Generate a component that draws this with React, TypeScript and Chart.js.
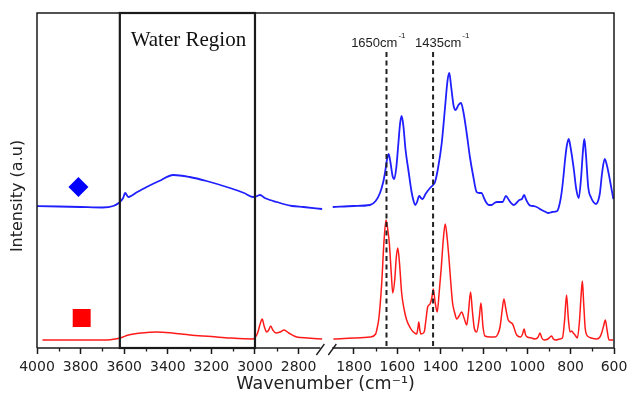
import React, { useEffect, useRef } from 'react';
import { Chart, registerables } from 'chart.js';

Chart.register(...registerables);

// ---- axis break definition (wavenumber, cm-1) ----
const X_START = 4000;
const BREAK_HIGH = 2700; // left panel ends here
const BREAK_LOW = 1900; // right panel starts here
const X_END = 600;
const X_MAX = 2647; // axis length in internal units (left panel 1 unit = 1 cm-1)
const RIGHT_SCALE = 0.994; // right panel slightly compressed

const T = (w: number) =>
  w >= (BREAK_HIGH + BREAK_LOW) / 2 ? X_START - w : X_MAX - (w - X_END) * RIGHT_SCALE;
const invT = (t: number) =>
  t <= X_START - BREAK_HIGH ? X_START - t : X_END + (X_MAX - t) / RIGHT_SCALE;

// ---- tick labels ----
const majorTicks = [4000, 3800, 3600, 3400, 3200, 3000, 2800, 1800, 1600, 1400, 1200, 1000, 800, 600];
const minorTicks = [3900, 3700, 3500, 3300, 3100, 2900, 1700, 1500, 1300, 1100, 900, 700];

// ---- blue series (upper spectrum) ----
const blueLeftWn = [4000, 3900, 3800, 3700, 3650, 3625, 3605, 3596, 3581, 3540, 3497, 3440, 3375, 3300, 3222, 3115, 3050, 3010, 2990, 2977, 2955, 2931, 2900, 2870, 2830, 2778, 2692];
const blueLeftVal = [142, 141.5, 141, 140.5, 142, 145, 150, 155, 151, 156, 161, 167, 173, 171, 167, 160, 155, 151, 152, 153, 150, 148, 146, 144, 142, 141, 139];

const blueRightWn = [1898, 1800, 1726, 1700, 1680, 1665, 1657, 1648, 1640, 1632, 1622, 1614, 1605, 1595, 1587, 1580, 1572, 1562, 1549, 1535, 1525, 1517, 1509, 1499, 1491, 1483, 1470, 1449, 1435, 1426, 1412, 1395, 1380, 1368, 1360, 1352, 1340, 1331, 1318, 1306, 1295, 1280, 1265, 1249, 1234, 1222, 1211, 1200, 1191, 1178, 1165, 1152, 1141, 1125, 1114, 1099, 1085, 1075, 1062, 1050, 1037, 1025, 1015, 1005, 991, 975, 957, 934, 915, 903, 885, 862, 850, 842, 834, 826, 818, 809, 800, 785, 775, 763, 752, 744, 737, 730, 719, 705, 695, 683, 672, 665, 655, 643, 632, 619, 603];
const blueRightVal = [141, 142, 143, 147, 155, 166, 175, 188, 194, 186, 172, 169, 180, 205, 225, 232, 222, 198, 178, 157, 147, 143, 146, 152, 150, 149, 154, 160, 163, 166, 180, 205, 240, 268, 275, 262, 242, 238, 243, 245, 236, 215, 191, 171, 156, 155, 155, 150, 146, 143, 143, 145, 146, 146, 146, 152, 148, 145, 143, 145, 148, 149, 153, 148, 143, 142, 141, 138, 136, 135, 136, 137, 145, 155, 170, 188, 202, 209, 200, 178, 160, 150, 170, 195, 209, 195, 161, 150, 146, 144, 148, 155, 175, 189, 182, 168, 149];

// ---- red series (lower spectrum) ----
const redLeftWn = [3975, 3800, 3680, 3640, 3619, 3580, 3520, 3451, 3380, 3298, 3200, 3115, 3008, 2998, 2988, 2975, 2967, 2958, 2946, 2937, 2928, 2918, 2904, 2885, 2866, 2845, 2809, 2760, 2692];
const redLeftVal = [8, 8, 8, 9, 10, 13, 15, 16, 15, 13, 11.5, 10, 9, 11, 15, 25, 29, 22, 16, 18, 22, 18, 15, 16, 18, 15, 11, 10, 9];

const redRightWn = [1895, 1800, 1726, 1700, 1695, 1685, 1672, 1662, 1652, 1645, 1637, 1628, 1621, 1612, 1605, 1598, 1590, 1580, 1568, 1557, 1540, 1526, 1511, 1505, 1501, 1496, 1491, 1476, 1468, 1460, 1449, 1441, 1434, 1425, 1416, 1407, 1397, 1388, 1379, 1370, 1360, 1352, 1345, 1335, 1326, 1315, 1303, 1292, 1280, 1272, 1262, 1254, 1245, 1234, 1222, 1214, 1205, 1196, 1170, 1149, 1136, 1126, 1116, 1108, 1100, 1088, 1068, 1055, 1049, 1031, 1022, 1015, 1008, 1000, 980, 965, 950, 942, 933, 923, 905, 895, 888, 880, 868, 850, 838, 828, 819, 811, 803, 795, 788, 780, 769, 760, 752, 746, 740, 733, 726, 705, 680, 665, 657, 648, 640, 632, 623, 603];
const redRightVal = [9, 10, 11, 14, 18, 30, 65, 105, 128, 120, 105, 75, 55, 68, 90, 100, 85, 55, 38, 28, 20, 16, 14, 20, 26, 18, 14, 16, 28, 41, 44, 50, 59, 45, 36, 55, 81, 108, 124, 110, 85, 62, 45, 35, 29, 32, 36, 30, 23, 35, 56, 38, 20, 16, 30, 45, 22, 12, 11, 11, 14, 21, 38, 49, 40, 28, 24, 16, 13, 11, 14, 19, 13, 11, 10, 9, 11, 15, 10, 8, 9, 11, 12, 9, 8, 9, 10, 28, 53, 30, 16, 17, 15, 13, 10, 25, 52, 67, 45, 20, 13, 10, 9, 11, 15, 22, 28, 18, 8, 8];

// ---- sample markers ----
const blueMarker = { wn: 3810, val: 161 };
const redMarker = { wn: 3795, val: 30 };

// ---- annotations ----
const waterRegion = { from: 3620, to: 3000, label: 'Water Region' };
const bandLines = [
  { wn: 1650, label: '1650cm', side: 'left' },
  { wn: 1435, label: '1435cm', side: 'right' },
];
const bandLineTop = 296;
const yTitle = 'Intensity (a.u)';

const Y_MAX = 335;

const BLUE = '#1f1fff';
const RED = '#ff1a1a';
const INK = '#1a1a1a';
const SANS = "'DejaVu Sans', 'Liberation Sans', Arial, sans-serif";
const ARIAL = "'Liberation Sans', Arial, sans-serif";

const toPts = (wn: number[], v: number[]) => wn.map((w, i) => ({ x: T(w), y: v[i] }));

const decorPlugin = {
  id: 'decor',
  afterDatasetsDraw(chart: any) {
    const { ctx, chartArea: a, scales } = chart;
    const x = scales.x;
    const y = scales.y;
    ctx.save();
    ctx.strokeStyle = INK;
    ctx.lineCap = 'butt';

    // frame
    const xL = x.getPixelForValue(T(BREAK_HIGH));
    const xR = x.getPixelForValue(T(BREAK_LOW));
    ctx.lineWidth = 1.5;
    ctx.beginPath();
    ctx.moveTo(a.left, a.bottom);
    ctx.lineTo(a.left, a.top);
    ctx.lineTo(a.right, a.top);
    ctx.lineTo(a.right, a.bottom);
    ctx.lineTo(xR, a.bottom);
    ctx.moveTo(xL, a.bottom);
    ctx.lineTo(a.left, a.bottom);
    ctx.stroke();

    // break slashes
    ctx.lineWidth = 1.3;
    ctx.beginPath();
    [xL, xR].forEach((cx) => {
      ctx.moveTo(cx - 4, a.bottom + 7);
      ctx.lineTo(cx + 4, a.bottom - 4);
    });
    ctx.stroke();

    // minor ticks
    ctx.lineWidth = 1.3;
    ctx.beginPath();
    minorTicks.forEach((w) => {
      const px = Math.round(x.getPixelForValue(T(w))) + 0.5;
      ctx.moveTo(px, a.bottom);
      ctx.lineTo(px, a.bottom + 3.5);
    });
    ctx.stroke();

    // water region box
    const wx1 = x.getPixelForValue(T(waterRegion.from));
    const wx2 = x.getPixelForValue(T(waterRegion.to));
    ctx.lineWidth = 2.2;
    ctx.strokeRect(wx1, a.top, wx2 - wx1, a.bottom - a.top);
    ctx.fillStyle = '#111';
    ctx.font = "21px 'Liberation Serif', 'Times New Roman', serif";
    ctx.textAlign = 'center';
    ctx.textBaseline = 'alphabetic';
    ctx.fillText(waterRegion.label, (wx1 + wx2) / 2 + 1, 46);

    // dashed band lines
    ctx.lineWidth = 2;
    ctx.setLineDash([5, 3.5]);
    ctx.strokeStyle = '#222';
    const yTop = y.getPixelForValue(bandLineTop);
    bandLines.forEach((b) => {
      const px = x.getPixelForValue(T(b.wn));
      ctx.beginPath();
      ctx.moveTo(px, yTop);
      ctx.lineTo(px, a.bottom);
      ctx.stroke();
    });
    ctx.setLineDash([]);

    // band labels
    bandLines.forEach((b) => {
      const px = x.getPixelForValue(T(b.wn));
      ctx.font = `13px ${ARIAL}`;
      const mainW = ctx.measureText(b.label).width;
      ctx.font = `8px ${ARIAL}`;
      const supW = ctx.measureText('-1').width;
      const total = mainW + supW + 1;
      const left = b.side === 'left' ? px + 19 - total : px - 18;
      ctx.textAlign = 'left';
      ctx.fillStyle = '#222';
      ctx.font = `13px ${ARIAL}`;
      ctx.fillText(b.label, left, 47);
      ctx.font = `8px ${ARIAL}`;
      ctx.fillText('-1', left + mainW + 1, 38);
    });

    // y axis title
    ctx.save();
    ctx.translate(18, 196);
    ctx.rotate(-Math.PI / 2);
    ctx.textAlign = 'center';
    ctx.textBaseline = 'middle';
    ctx.fillStyle = '#222';
    ctx.font = `16px ${SANS}`;
    ctx.fillText(yTitle, 0, 0);
    ctx.restore();

    ctx.restore();
  },
};

export default function App() {
  const ref = useRef<HTMLCanvasElement>(null);
  useEffect(() => {
    const canvas = ref.current;
    if (!canvas) return;
    const lineDs = (label: string, wn: number[], v: number[], color: string, w: number) => ({
      type: 'line' as const,
      label,
      data: toPts(wn, v),
      borderColor: color,
      borderWidth: w,
      pointRadius: 0,
      fill: false,
      cubicInterpolationMode: 'monotone' as const,
    });
    const chart = new Chart(canvas, {
      type: 'line',
      data: {
        datasets: [
          lineDs('blue-left', blueLeftWn, blueLeftVal, BLUE, 1.8),
          lineDs('blue-right', blueRightWn, blueRightVal, BLUE, 1.8),
          lineDs('red-left', redLeftWn, redLeftVal, RED, 1.5),
          lineDs('red-right', redRightWn, redRightVal, RED, 1.5),
          {
            type: 'line',
            label: 'blue-marker',
            data: [{ x: T(blueMarker.wn), y: blueMarker.val }],
            showLine: false,
            pointStyle: 'rectRot',
            pointRadius: 10,
            pointBackgroundColor: '#0000ff',
            pointBorderWidth: 0,
          },
          {
            type: 'line',
            label: 'red-marker',
            data: [{ x: T(redMarker.wn), y: redMarker.val }],
            showLine: false,
            pointStyle: 'rect',
            pointRadius: 12.7,
            pointBackgroundColor: '#ff0000',
            pointBorderWidth: 0,
          },
        ] as any,
      },
      options: {
        responsive: false,
        animation: false,
        devicePixelRatio: 1,
        layout: { padding: { left: 0, top: 13, right: 15, bottom: 0 } },
        plugins: { legend: { display: false }, tooltip: { enabled: false } },
        scales: {
          x: {
            type: 'linear',
            min: 0,
            max: X_MAX,
            afterBuildTicks: (s: any) => {
              s.ticks = majorTicks.map((w) => ({ value: T(w) }));
            },
            afterFit: (s: any) => {
              s.height = 51;
              s.paddingLeft = 0;
              s.paddingRight = 0;
            },
            grid: {
              display: true,
              drawOnChartArea: false,
              drawTicks: true,
              tickLength: 6,
              tickColor: INK,
              tickWidth: 1.5,
            },
            border: { display: false },
            ticks: {
              autoSkip: false,
              maxRotation: 0,
              padding: 5,
              color: '#222',
              font: { family: SANS, size: 14 },
              callback: (v: any) => String(Math.round(invT(Number(v)))),
            },
            title: {
              display: true,
              text: 'Wavenumber (cm⁻¹)',
              color: '#222',
              font: { family: SANS, size: 17.5 },
              padding: { top: 0, bottom: 4 },
            },
          },
          y: {
            type: 'linear',
            min: 0,
            max: Y_MAX,
            afterFit: (s: any) => {
              s.width = 37;
              s.paddingTop = 0;
              s.paddingBottom = 0;
            },
            ticks: { display: false },
            grid: { display: false },
            border: { display: false },
            title: { display: false },
          },
        },
      } as any,
      plugins: [decorPlugin],
    });
    return () => chart.destroy();
  }, []);
  return (
    <div style={{ position: 'absolute', left: 0, top: 0, width: 629, height: 399, background: '#fff' }}>
      <canvas ref={ref} width={629} height={399} style={{ display: 'block' }} />
    </div>
  );
}
